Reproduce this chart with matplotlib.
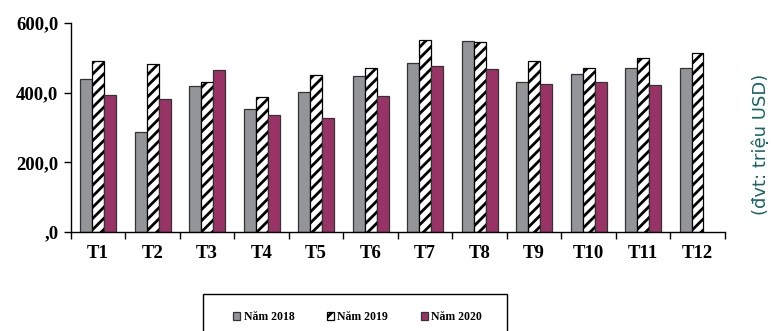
import matplotlib
matplotlib.use("Agg")
import matplotlib.pyplot as plt
from matplotlib.patches import Rectangle
import numpy as np

months = ["T1", "T2", "T3", "T4", "T5", "T6", "T7", "T8", "T9", "T10", "T11", "T12"]
nam_2018 = [440, 286, 419, 353, 401, 447, 486, 548, 430, 454, 472, 472]
nam_2019 = [492, 482, 430, 388, 450, 471, 552, 545, 492, 471, 499, 514]
nam_2020 = [394, 381, 465, 335, 328, 390, 478, 468, 426, 430, 422, np.nan]
y_ticks = [0, 200, 400, 600]
y_labels = [",0", "200,0", "400,0", "600,0"]

plt.rcParams["hatch.linewidth"] = 2.0
serif = ["Liberation Serif", "DejaVu Serif"]

fig = plt.figure(figsize=(7.71, 3.31), dpi=100)
ax = fig.add_axes([0.092, 0.299, 0.848, 0.6315])

x = np.arange(len(months))
w = 0.22
edge = "#333333"
b1 = ax.bar(x - w, nam_2018, w, color="#939598", edgecolor=edge, linewidth=0.9)
b2 = ax.bar(x, nam_2019, w, color="white", edgecolor="black", hatch="///", linewidth=0.9)
b3 = ax.bar(x + w, nam_2020, w, color="#993366", edgecolor=edge, linewidth=0.9)

ax.set_xlim(-0.5, len(months) - 0.5)
ax.set_ylim(0, 600)
ax.set_yticks(y_ticks)
ax.set_yticklabels(y_labels, fontfamily=serif, fontweight="bold", fontsize=13.5)
ax.set_xticks(x)
ax.set_xticklabels(months, fontfamily=serif, fontweight="bold", fontsize=13.5)
ax.set_xticks(np.arange(len(months) + 1) - 0.5, minor=True)
ax.tick_params(axis="x", which="major", length=0, pad=9)
ax.tick_params(axis="x", which="minor", length=5, width=1)
ax.tick_params(axis="y", length=5, width=1, pad=4)
for s in ("top", "right"):
    ax.spines[s].set_visible(False)
for s in ("left", "bottom"):
    ax.spines[s].set_linewidth(1.0)

fig.text(0.987, 0.565, "(đvt: triệu USD)", rotation=90, ha="center", va="center",
         color="#1a6466", fontsize=13, fontfamily="DejaVu Sans")

# legend box runs off the bottom edge
fig.patches.append(Rectangle((203 / 771, -0.1), 304 / 771, 0.1 + 37 / 331,
                             transform=fig.transFigure, fill=False,
                             edgecolor="black", linewidth=1.0))
fig.legend([b1, b2, b3], ["Năm 2018", "Năm 2019", "Năm 2020"],
           loc="center", bbox_to_anchor=(0.4637, 0.042), ncol=3, frameon=False,
           prop={"family": serif, "weight": "bold", "size": 8.5},
           handlelength=0.6, handleheight=0.6, handletextpad=0.3, columnspacing=2.75)

fig.savefig("out.png", dpi=100)
